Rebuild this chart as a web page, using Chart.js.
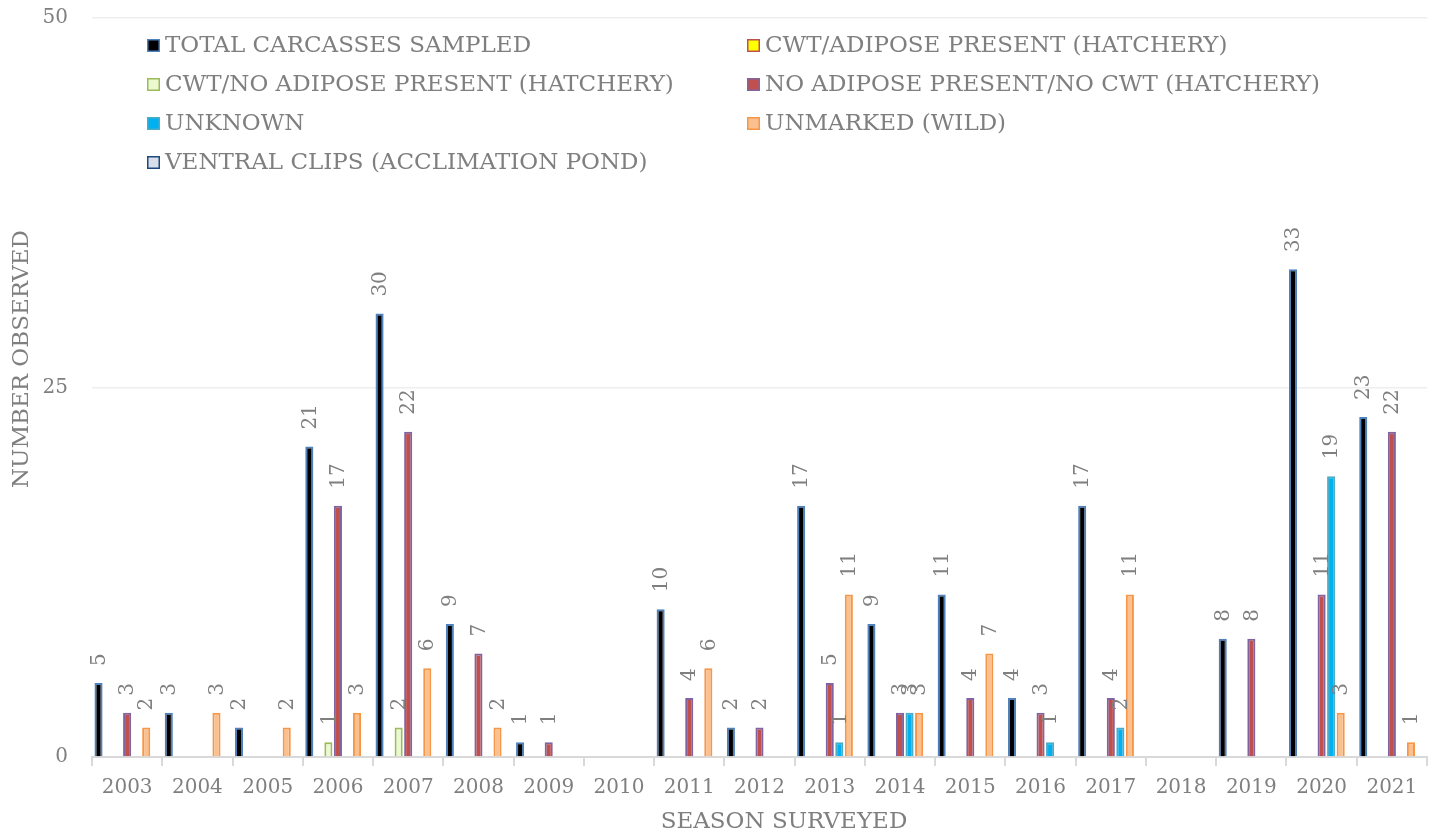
<!DOCTYPE html>
<html>
<head>
<meta charset="utf-8">
<script src="https://cdn.jsdelivr.net/npm/chart.js@4"></script>
<style>
  html, body { margin: 0; padding: 0; background: #fff; }
  #wrap { position: relative; width: 1439px; height: 837px; }
</style>
</head>
<body>
<div id="wrap"><canvas id="carcassChart"></canvas></div>
<script>
/* =====================================
   DATA
===================================== */
const seasons = ["2003", "2004", "2005", "2006", "2007", "2008", "2009", "2010", "2011", "2012",
                 "2013", "2014", "2015", "2016", "2017", "2018", "2019", "2020", "2021"];

const totalSampled     = [5, 3, 2, 21, 30, 9, 1, null, 10, 2, 17, 9, 11, 4, 17, null, 8, 33, 23];
const cwtAdipose       = [null, null, null, null, null, null, null, null, null, null, null, null, null, null, null, null, null, null, null];
const cwtNoAdipose     = [null, null, null, 1, 2, null, null, null, null, null, null, null, null, null, null, null, null, null, null];
const noAdiposeNoCwt   = [3, null, null, 17, 22, 7, 1, null, 4, 2, 5, 3, 4, 3, 4, null, 8, 11, 22];
const unknownMark      = [null, null, null, null, null, null, null, null, null, null, 1, 3, null, 1, 2, null, null, 19, null];
const unmarkedWild     = [2, 3, 2, 3, 6, 2, null, null, 6, null, 11, 3, 7, null, 11, null, null, 3, 1];
const ventralClips     = [null, null, null, null, null, null, null, null, null, null, null, null, null, null, null, null, null, null, null];

const yTicks = [0, 25, 50];

const fontFam = "'DejaVu Serif', 'Liberation Serif', serif";
const grayText = "#7f7f7f";

/* =====================================
   PLUGINS: VALUE LABELS, LEGEND, AXIS TITLES
===================================== */
// Rotated value labels above each bar
const valueLabels = {
   id: "valueLabels",
   afterDatasetsDraw(chart) {
      const ctx = chart.ctx;
      ctx.save();
      ctx.font = "20px " + fontFam;
      ctx.fillStyle = grayText;
      ctx.textAlign = "left";
      ctx.textBaseline = "middle";
      chart.data.datasets.forEach((ds, i) => {
         const meta = chart.getDatasetMeta(i);
         meta.data.forEach((bar, j) => {
            const v = ds.data[j];
            if (v === null || v === undefined) return;
            ctx.save();
            ctx.translate(bar.x + 1, bar.y - 17);
            ctx.rotate(-Math.PI / 2);
            ctx.fillText(String(v), 0, 0);
            ctx.restore();
         });
      });
      ctx.restore();
   }
};

// Two-column legend drawn over the plot area
const legendInPlot = {
   id: "legendInPlot",
   afterDraw(chart) {
      const ctx = chart.ctx;
      const colX = [147, 747];
      const rowY = [45, 84, 123, 162];
      ctx.save();
      ctx.font = "23px " + fontFam;
      ctx.textBaseline = "middle";
      ctx.textAlign = "left";
      chart.data.datasets.forEach((ds, i) => {
         const x = colX[i % 2];
         const y = rowY[Math.floor(i / 2)];
         ctx.fillStyle = ds.backgroundColor;
         ctx.fillRect(x, y - 6, 13, 13);
         ctx.strokeStyle = ds.borderColor;
         ctx.lineWidth = 1.5;
         ctx.strokeRect(x + 0.75, y - 5.25, 11.5, 11.5);
         ctx.fillStyle = grayText;
         ctx.fillText(ds.label, x + 18, y + 1);
      });
      ctx.restore();
   }
};

// Axis titles (positioned like the original, a bit off-centre)
const axisTitles = {
   id: "axisTitles",
   afterDraw(chart) {
      const ctx = chart.ctx;
      ctx.save();
      ctx.font = "23px " + fontFam;
      ctx.fillStyle = grayText;
      ctx.textAlign = "center";
      ctx.textBaseline = "middle";
      ctx.fillText("SEASON SURVEYED", 784, 822);
      ctx.translate(22, 359);
      ctx.rotate(-Math.PI / 2);
      ctx.fillText("NUMBER OBSERVED", 0, 0);
      ctx.restore();
   }
};

/* =====================================
   CHART
===================================== */
function barSet(label, data, fill, border) {
   return {
      label: label,
      data: data,
      backgroundColor: fill,
      borderColor: border,
      borderWidth: 2,
      categoryPercentage: 0.95,
      barPercentage: 0.85
   };
}

new Chart(document.getElementById("carcassChart"), {
   type: "bar",
   data: {
      labels: seasons,
      datasets: [
         barSet("TOTAL CARCASSES SAMPLED", totalSampled, "#000000", "#4F81BD"),
         barSet("CWT/ADIPOSE PRESENT (HATCHERY)", cwtAdipose, "#FFFF00", "#C0504D"),
         barSet("CWT/NO ADIPOSE PRESENT (HATCHERY)", cwtNoAdipose, "#EBF8D0", "#9BBB59"),
         barSet("NO ADIPOSE PRESENT/NO CWT (HATCHERY)", noAdiposeNoCwt, "#C0504D", "#8064A2"),
         barSet("UNKNOWN", unknownMark, "#00B0F0", "#4BACC6"),
         barSet("UNMARKED (WILD)", unmarkedWild, "#FAC090", "#F79646"),
         barSet("VENTRAL CLIPS (ACCLIMATION POND)", ventralClips, "#D9DFEA", "#1F497D")
      ]
   },
   options: {
      responsive: true,
      maintainAspectRatio: false,
      animation: false,
      layout: { padding: { left: 0, right: 12, top: 18, bottom: 0 } },
      plugins: {
         legend: { display: false },
         tooltip: { enabled: false }
      },
      scales: {
         x: {
            grid: {
               display: true,
               drawOnChartArea: false,
               offset: true,
               color: "#d9d9d9",
               tickLength: 9,
               lineWidth: 2
            },
            border: { color: "#d9d9d9", width: 2 },
            ticks: { color: grayText, font: { family: fontFam, size: 20 }, padding: 10, maxRotation: 0 },
            afterFit(scale) { scale.height = 80; }
         },
         y: {
            min: 0,
            max: 50,
            afterBuildTicks(scale) { scale.ticks = yTicks.map(v => ({ value: v })); },
            grid: { color: "#eeeeee", drawTicks: false, lineWidth: 1.5 },
            border: { display: false },
            ticks: { color: grayText, font: { family: fontFam, size: 20 }, padding: 24 },
            afterFit(scale) {
               scale.width = 92;
               scale.paddingTop = 0;
               scale.paddingBottom = 0;
            }
         }
      }
   },
   plugins: [valueLabels, legendInPlot, axisTitles]
});
</script>
</body>
</html>
